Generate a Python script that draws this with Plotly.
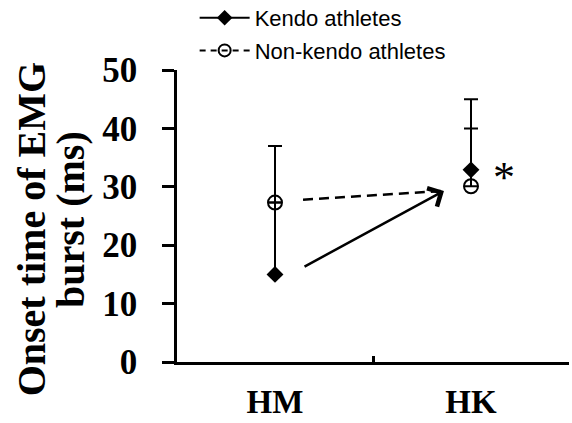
import plotly.graph_objects as go

# Conditions on the x axis
conditions = ["HM", "HK"]

# Onset time of EMG burst (ms): mean and upper SD for each group
kendo_mean = [15.0, 32.9]
kendo_sd = [12.3, 12.1]
nonkendo_mean = [27.3, 30.1]
nonkendo_sd = [9.7, 9.9]

series_names = ["Kendo athletes", "Non-kendo athletes"]
y_ticks = [0, 10, 20, 30, 40, 50]
y_title_lines = ["Onset time of EMG", "burst (ms)"]

# Trend arrows (category index, ms): tail -> head
kendo_arrow = dict(x0=0.143, y0=16.2, x1=0.862, y1=29.3)
nonkendo_arrow = dict(x0=0.143, y0=27.8, x1=0.862, y1=29.3)

SERIF = "Liberation Serif, Times New Roman, serif"
SANS = "Liberation Sans, Arial, sans-serif"

fig = go.Figure()

# Non-kendo group: open circles with upper error bars
fig.add_trace(go.Scatter(
    x=conditions, y=nonkendo_mean, mode="markers", showlegend=False,
    marker=dict(symbol="circle-open", size=14, color="black", line=dict(width=2, color="black")),
    error_y=dict(type="data", symmetric=False, array=nonkendo_sd, arrayminus=[0, 0],
                 color="black", thickness=2, width=7),
))

# Kendo group: filled diamonds with upper error bars
fig.add_trace(go.Scatter(
    x=conditions, y=kendo_mean, mode="markers", showlegend=False,
    marker=dict(symbol="diamond", size=13, color="black"),
    error_y=dict(type="data", symmetric=False, array=kendo_sd, arrayminus=[0, 0],
                 color="black", thickness=2, width=7),
))

# Legend entries (line + marker symbols)
fig.add_trace(go.Scatter(
    x=[None], y=[None], mode="lines+markers", name=series_names[0], legendgroup="k",
    line=dict(color="black", width=2),
    marker=dict(symbol="diamond", size=12, color="black"),
))
fig.add_trace(go.Scatter(
    x=[None], y=[None], mode="lines+markers", name=series_names[1], legendgroup="n",
    line=dict(color="black", width=2, dash="6px,5px"),
    marker=dict(symbol="circle-open", size=12, color="black", line=dict(width=2, color="black")),
))

# Dashed trend line for the non-kendo group
fig.add_shape(type="line", xref="x", yref="y",
              x0=nonkendo_arrow["x0"], y0=nonkendo_arrow["y0"],
              x1=nonkendo_arrow["x1"], y1=nonkendo_arrow["y1"],
              line=dict(color="black", width=2.5, dash="10px,6px"))

# Solid trend arrow for the kendo group
fig.add_annotation(
    xref="x", yref="y", axref="x", ayref="y",
    x=kendo_arrow["x1"], y=kendo_arrow["y1"],
    ax=kendo_arrow["x0"], ay=kendo_arrow["y0"],
    text="", showarrow=True, arrowhead=4, arrowsize=1.6, arrowwidth=2.5, arrowcolor="black",
)

# Significance mark next to the kendo HK point
fig.add_annotation(
    xref="x", yref="y", x=conditions[1], y=kendo_mean[1], text="*",
    showarrow=False, xshift=33, yshift=-8,
    font=dict(family=SERIF, size=44, color="black"),
)

# Two-line rotated y-axis title
for txt, px, py in zip(y_title_lines, [-0.372, -0.27], [0.455, 0.487]):
    fig.add_annotation(
        xref="paper", yref="paper", x=px, y=py, text=txt, textangle=-90,
        showarrow=False, xanchor="center", yanchor="middle",
        font=dict(family=SERIF, size=40, color="black", weight="bold"),
    )

fig.update_layout(
    width=572, height=423,
    margin=dict(l=177, r=3, t=70, b=61, autoexpand=False),
    paper_bgcolor="white", plot_bgcolor="white",
    showlegend=True,
    legend=dict(
        x=0.045, xanchor="left", y=1.25, yanchor="top",
        font=dict(family=SANS, size=22, color="black"),
        bgcolor="rgba(0,0,0,0)", tracegroupgap=1, itemwidth=50,
    ),
    xaxis=dict(
        type="category", categoryorder="array", categoryarray=conditions,
        range=[-0.5, 1.5], showline=True, linecolor="black", linewidth=2.5,
        showgrid=False, zeroline=False,
        tickson="boundaries", ticks="inside", ticklen=6, tickwidth=2.5, tickcolor="black",
        tickfont=dict(family=SERIF, size=33, color="black", weight="bold"),
        ticklabelstandoff=9,
    ),
    yaxis=dict(
        range=[0, 50], tickvals=y_ticks, showline=True, linecolor="black", linewidth=2.5,
        showgrid=False, zeroline=False,
        ticks="outside", ticklen=12, tickwidth=2.5, tickcolor="black",
        tickfont=dict(family=SERIF, size=35, color="black", weight="bold"),
        ticklabelstandoff=18,
    ),
)

fig.write_html("out.html")
